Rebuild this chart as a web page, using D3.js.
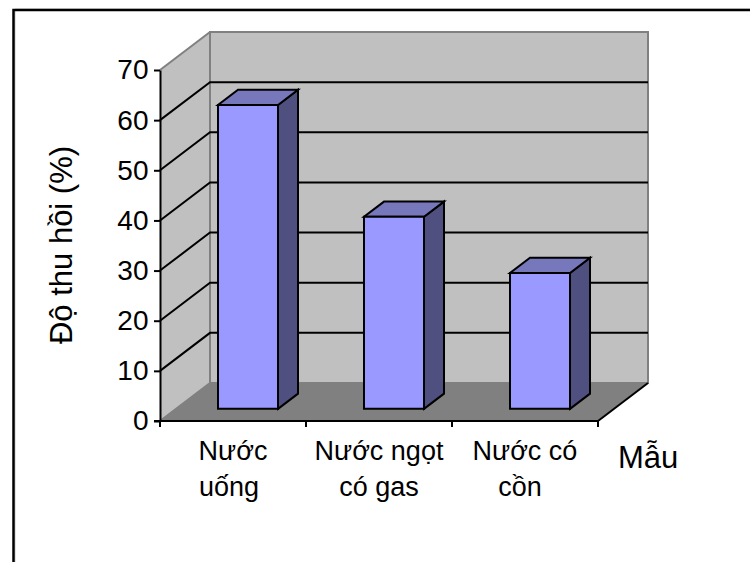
<!DOCTYPE html>
<html>
<head>
<meta charset="utf-8">
<script src="https://cdn.jsdelivr.net/npm/d3@7/dist/d3.min.js"></script>
<style>
  html, body { margin: 0; padding: 0; background: #fff; }
  svg { display: block; }
  text { font-family: "Liberation Sans", Arial, sans-serif; fill: #000; }
</style>
</head>
<body>
<svg id="chart" width="750" height="562"></svg>
<script>
var categories = ['Nước uống', 'Nước ngọt có gas', 'Nước có cồn'];
var categoryLines = [['Nước', 'uống'], ['Nước ngọt', 'có gas'], ['Nước có', 'cồn']];
var values = [60.6, 38.3, 27.1];
var yTicks = [0, 10, 20, 30, 40, 50, 60, 70];
var yTitle = 'Độ thu hồi (%)';
var xTitle = 'Mẫu';

var svg = d3.select('#chart');

// frame is cut off on the right and at the bottom, grey edge sits outside the black one
svg.append('path').attr('d', 'M15 562V9H750')
  .attr('fill', 'none').attr('stroke', '#c8c8c8').attr('stroke-width', 1);
svg.append('path').attr('d', 'M13.5 562V10H750')
  .attr('fill', 'none').attr('stroke', '#000').attr('stroke-width', 2.5);

var x = d3.scaleBand().domain(categories).range([160, 598]).paddingInner(0).paddingOuter(0);
var y = d3.scaleLinear().domain([0, 70]).range([421, 70]);

// oblique projection: d = 0 at the front of the floor, d = 1 at the back wall
var depthX = d3.scaleLinear().domain([0, 1]).range([0, 50]);
var depthY = d3.scaleLinear().domain([0, 1]).range([0, -38]);
function px(xv, d) { return xv + depthX(d); }
function py(yv, d) { return y(yv) + depthY(d); }
function poly(pts) { return 'M' + pts.map(function(p){ return px(p[0], p[1]) + ' ' + py(p[2], p[1]); }).join('L') + 'Z'; }

var x0 = x.range()[0], x1 = x.range()[1], yMax = y.domain()[1];

// walls and floor
svg.append('path').attr('d', poly([[x0, 0, 0], [x0, 1, 0], [x0, 1, yMax], [x0, 0, yMax]])).attr('fill', '#c0c0c0');
svg.append('path').attr('d', poly([[x0, 1, 0], [x1, 1, 0], [x1, 1, yMax], [x0, 1, yMax]])).attr('fill', '#c0c0c0');
svg.append('path').attr('d', poly([[x0, 0, 0], [x1, 0, 0], [x1, 1, 0], [x0, 1, 0]])).attr('fill', '#808080');

var wallEdge = 'M' + px(x0, 0) + ' ' + py(0, 0) + 'L' + px(x0, 1) + ' ' + py(0, 1) + 'H' + px(x1, 1) + 'V' + py(yMax, 1) + 'H' + px(x0, 1) + 'V' + py(0, 1);
svg.append('path').attr('d', wallEdge).attr('fill', 'none').attr('stroke', '#808080').attr('stroke-width', 2);
svg.append('path').attr('d', 'M' + px(x0, 0) + ' ' + py(yMax, 0) + 'L' + px(x0, 1) + ' ' + py(yMax, 1))
  .attr('fill', 'none').attr('stroke', '#808080').attr('stroke-width', 2);

// gridlines run along the side wall then the back wall
svg.selectAll('.grid').data(yTicks.filter(function(t){ return t > 0 && t < yMax; })).enter().append('path')
  .attr('class', 'grid')
  .attr('d', function(t){ return 'M' + px(x0, 0) + ' ' + py(t, 0) + 'L' + px(x0, 1) + ' ' + py(t, 1) + 'H' + px(x1, 1); })
  .attr('fill', 'none').attr('stroke', '#000').attr('stroke-width', 2);

// bars
var barInset = 58, barWidth = 60, d0 = 0.32, d1 = 0.72;
var bars = svg.selectAll('.bar').data(values).enter().append('g').attr('class', 'bar');
function barLeft(i) { return x(categories[i]) + barInset; }
function stroke(sel) { return sel.attr('stroke', '#000').attr('stroke-width', 2).attr('stroke-linejoin', 'miter'); }
bars.append('path').attr('fill', '#4f4f80').call(stroke).attr('d', function(v, i){
  var r = barLeft(i) + barWidth - depthX(d0);
  return poly([[r, d0, 0], [r, d1, 0], [r, d1, v], [r, d0, v]]);
});
bars.append('path').attr('fill', '#7777bb').call(stroke).attr('d', function(v, i){
  var l = barLeft(i) - depthX(d0), r = l + barWidth;
  return poly([[l, d0, v], [r, d0, v], [r, d1, v], [l, d1, v]]);
});
bars.append('path').attr('fill', '#9999ff').call(stroke).attr('d', function(v, i){
  var l = barLeft(i) - depthX(d0), r = l + barWidth;
  return poly([[l, d0, 0], [r, d0, 0], [r, d0, v], [l, d0, v]]);
});

// axes
var yAxis = d3.axisLeft(y).tickValues(yTicks).tickSize(6).tickPadding(5.5).tickSizeOuter(0);
var gy = svg.append('g').attr('transform', 'translate(160,0)').call(yAxis);
gy.selectAll('path, line').attr('stroke', '#000').attr('stroke-width', 2);
gy.selectAll('text').attr('font-size', 28).style('font-family', '"Liberation Sans", Arial, sans-serif').attr('fill', '#000');

var gx = svg.append('g');
gx.append('line').attr('x1', x0 - 6).attr('x2', x1).attr('y1', y(0)).attr('y2', y(0)).attr('stroke', '#000').attr('stroke-width', 2);
gx.append('path').attr('d', 'M' + px(x1, 0) + ' ' + py(0, 0) + 'L' + px(x1, 1) + ' ' + py(0, 1))
  .attr('fill', 'none').attr('stroke', '#000').attr('stroke-width', 2);
gx.selectAll('.tick').data(d3.range(categories.length + 1)).enter().append('line')
  .attr('class', 'tick')
  .attr('x1', function(i){ return x0 + i * x.bandwidth(); })
  .attr('x2', function(i){ return x0 + i * x.bandwidth(); })
  .attr('y1', y(0)).attr('y2', y(0) + 6)
  .attr('stroke', '#000').attr('stroke-width', 2);

// second lines are not quite centred in the original
var secondLineShift = [-4, 0, -5];
categoryLines.forEach(function(lines, i){
  lines.forEach(function(line, j){
    svg.append('text')
      .attr('x', x(categories[i]) + x.bandwidth() / 2 + (j ? secondLineShift[i] : 0))
      .attr('y', 460 + j * 36)
      .attr('text-anchor', 'middle').attr('font-size', 27)
      .text(line);
  });
});

svg.append('text').attr('x', 618).attr('y', 468).attr('font-size', 31).text(xTitle);
svg.append('text').attr('transform', 'translate(72,245) rotate(-90)')
  .attr('text-anchor', 'middle').attr('font-size', 31).text(yTitle);
</script>
</body>
</html>
